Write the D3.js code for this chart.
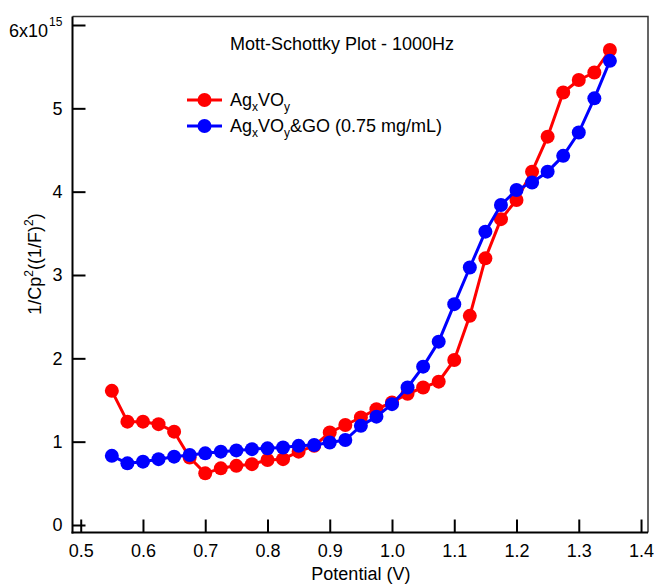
<!DOCTYPE html>
<html>
<head>
<meta charset="utf-8">
<script src="https://cdn.jsdelivr.net/npm/d3@7"></script>
<style>
  html, body { margin: 0; padding: 0; background: #fff; }
  svg { display: block; }
  text { font-family: "Liberation Sans", Arial, sans-serif; fill: #000; }
</style>
</head>
<body>
<svg id="chart" width="654" height="587"></svg>
<script>
// ---- data (values in units of 1e15 (1/F)^2) ----
const potential = [0.55, 0.575, 0.6, 0.625, 0.65, 0.675, 0.7, 0.725, 0.75, 0.775, 0.8,
  0.825, 0.85, 0.875, 0.9, 0.925, 0.95, 0.975, 1.0, 1.025, 1.05, 1.075, 1.1, 1.125,
  1.15, 1.175, 1.2, 1.225, 1.25, 1.275, 1.3, 1.325, 1.35];
const agvo = [1.61, 1.24, 1.24, 1.21, 1.12, 0.81, 0.62, 0.68, 0.71, 0.73, 0.78,
  0.79, 0.88, 0.95, 1.11, 1.20, 1.29, 1.39, 1.47, 1.575, 1.65, 1.72, 1.98, 2.51,
  3.20, 3.67, 3.90, 4.24, 4.66, 5.19, 5.34, 5.43, 5.70];
const agvoGO = [0.83, 0.74, 0.76, 0.79, 0.82, 0.84, 0.86, 0.88, 0.895, 0.91, 0.92,
  0.93, 0.95, 0.96, 0.99, 1.02, 1.19, 1.30, 1.45, 1.65, 1.90, 2.20, 2.65, 3.09,
  3.52, 3.84, 4.02, 4.11, 4.24, 4.43, 4.71, 5.12, 5.57];
const seriesNames = ["AgxVOy", "AgxVOy&GO (0.75 mg/mL)"];
const seriesColors = ["#ff0000", "#0000ff"];
const xTicks = [0.5, 0.6, 0.7, 0.8, 0.9, 1.0, 1.1, 1.2, 1.3, 1.4];
const yTicks = [0, 1, 2, 3, 4, 5, 6];
const title = "Mott-Schottky Plot - 1000Hz";
const xTitle = "Potential (V)";

// ---- layout ----
const svg = d3.select("#chart");
const L = 72.5, R = 648, T = 16.5, B = 532.5;
const x = d3.scaleLinear().domain([0.4868, 1.4112]).range([L, R]);
const y = d3.scaleLinear().domain([-0.09, 6.102]).range([B, T]);
const FS = 18;

// frame (top & right)
svg.append("path")
  .attr("d", `M${L},${T}H${R}V${B}`)
  .attr("fill", "none").attr("stroke", "#333").attr("stroke-width", 1.5);

// x axis
const xAxis = svg.append("g").attr("transform", `translate(0,${B})`)
  .call(d3.axisBottom(x).tickValues(xTicks).tickFormat(d3.format(".1f"))
    .tickSizeInner(-13).tickSizeOuter(0).tickPadding(12));
// y axis
const yAxis = svg.append("g").attr("transform", `translate(${L},0)`)
  .call(d3.axisLeft(y).tickValues(yTicks).tickFormat(d => d === 6 ? "" : d3.format("d")(d))
    .tickSizeInner(-13).tickSizeOuter(0).tickPadding(10));

[xAxis, yAxis].forEach(g => {
  g.select(".domain").attr("stroke", "#000").attr("stroke-width", 2);
  g.selectAll(".tick line").attr("stroke", "#000").attr("stroke-width", 2);
  g.selectAll(".tick text").attr("font-size", FS)
    .attr("font-family", "Liberation Sans, Arial, sans-serif").attr("fill", "#000");
});
xAxis.select(".domain").attr("d", `M${L - 1},0H${R}`);
yAxis.select(".domain").attr("d", `M0,${B + 1}V${T}`);

// top label 6x10^15
svg.append("text").attr("x", 48).attr("y", y(6) + 12)
  .attr("text-anchor", "end").attr("font-size", FS).text("6x10");
svg.append("text").attr("x", 49).attr("y", y(6) + 1)
  .attr("font-size", 12).text("15");

// axis titles
svg.append("text").attr("x", (x(0.5) + x(1.4)) / 2).attr("y", 580)
  .attr("text-anchor", "middle").attr("font-size", FS).text(xTitle);

const yt = svg.append("text")
  .attr("transform", `translate(41,${264}) rotate(-90)`)
  .attr("text-anchor", "middle").attr("font-size", FS);
yt.append("tspan").text("1/Cp");
yt.append("tspan").attr("font-size", 12).attr("dy", -8).text("2");
yt.append("tspan").attr("dy", 8).text("((1/F)");
yt.append("tspan").attr("font-size", 12).attr("dy", -8).text("2");
yt.append("tspan").attr("dy", 8).text(")");

// title
svg.append("text").attr("x", 342).attr("y", 50)
  .attr("text-anchor", "middle").attr("font-size", FS).text(title);

// series
const line = d3.line().x(d => x(d[0])).y(d => y(d[1]));
[agvo, agvoGO].forEach((vals, i) => {
  const pts = potential.map((p, k) => [p, vals[k]]);
  const g = svg.append("g");
  g.append("path").datum(pts).attr("d", line)
    .attr("fill", "none").attr("stroke", seriesColors[i]).attr("stroke-width", 3)
    .attr("stroke-linejoin", "round");
  g.selectAll("circle").data(pts).join("circle")
    .attr("cx", d => x(d[0])).attr("cy", d => y(d[1])).attr("r", 7)
    .attr("fill", seriesColors[i]);
});

// legend
const legY = [100, 126];
seriesNames.forEach((name, i) => {
  const gy = legY[i];
  svg.append("line").attr("x1", 187).attr("x2", 222).attr("y1", gy).attr("y2", gy)
    .attr("stroke", seriesColors[i]).attr("stroke-width", 3);
  svg.append("circle").attr("cx", 204.5).attr("cy", gy).attr("r", 7)
    .attr("fill", seriesColors[i]);
  const t = svg.append("text").attr("x", 230).attr("y", gy + 6).attr("font-size", FS);
  t.append("tspan").text("Ag");
  t.append("tspan").attr("font-size", 12).attr("dy", 5).text("x");
  t.append("tspan").attr("dy", -5).text("VO");
  t.append("tspan").attr("font-size", 12).attr("dy", 5).text("y");
  if (i === 1) t.append("tspan").attr("dy", -5).text("&GO (0.75 mg/mL)");
});
</script>
</body>
</html>
